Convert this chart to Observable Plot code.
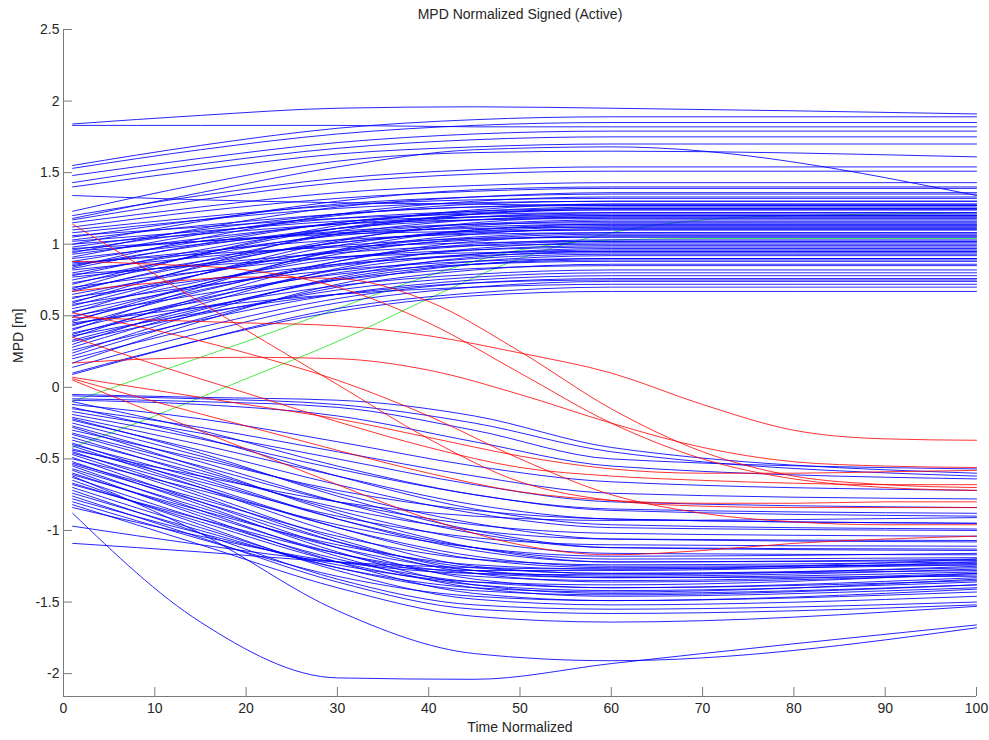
<!DOCTYPE html>
<html>
<head>
<meta charset="utf-8">
<script src="https://cdn.jsdelivr.net/npm/d3@7"></script>
<script src="https://cdn.jsdelivr.net/npm/@observablehq/plot@0.6"></script>
<style>
  html, body { margin: 0; padding: 0; background: #fff; }
  #chart { width: 989px; height: 740px; }
</style>
</head>
<body>
<div id="chart"></div>
<script>
// ---------- text ----------
const title = "MPD Normalized Signed (Active)";
const xLabel = "Time Normalized";
const yLabel = "MPD [m]";

// ---------- axes ----------
const xDomain = [0, 100];
const yDomain = [-2.16, 2.5];
const xTicks = [0, 10, 20, 30, 40, 50, 60, 70, 80, 90, 100];
const yTicks = [-2, -1.5, -1, -0.5, 0, 0.5, 1, 1.5, 2, 2.5];

// ---------- series ----------
// blue trajectories sampled at these normalized times
const blueKnots = [1, 15, 30, 45, 60, 100];

const upperBlue = [
  [1.84, 1.90, 1.95, 1.96, 1.95, 1.91],
  [1.83, 1.83, 1.83, 1.82, 1.82, 1.82],
  [1.55, 1.69, 1.81, 1.87, 1.89, 1.89],
  [1.53, 1.66, 1.77, 1.83, 1.85, 1.85],
  [1.48, 1.60, 1.71, 1.77, 1.79, 1.79],
  [1.43, 1.56, 1.67, 1.73, 1.75, 1.75],
  [1.40, 1.52, 1.63, 1.68, 1.70, 1.70],
  [1.34, 1.31, 1.29, 1.28, 1.27, 1.27],
  [1.23, 1.42, 1.58, 1.64, 1.65, 1.61],
  [1.20, 1.34, 1.46, 1.52, 1.54, 1.54],
  [1.17, 1.31, 1.43, 1.49, 1.51, 1.51],
  [1.15, 1.26, 1.36, 1.41, 1.43, 1.43],
  [1.12, 1.23, 1.32, 1.37, 1.39, 1.39],
  [1.10, 1.19, 1.27, 1.31, 1.32, 1.32],
  [1.18, 1.36, 1.54, 1.66, 1.68, 1.34],
  [1.08, 1.17, 1.25, 1.29, 1.30, 1.30],
  [1.06, 1.12, 1.18, 1.21, 1.22, 1.22],
  [1.05, 1.17, 1.28, 1.33, 1.35, 1.35],
  [1.03, 1.13, 1.21, 1.26, 1.27, 1.27],
  [1.02, 1.09, 1.16, 1.19, 1.20, 1.20],
  [1.00, 1.07, 1.14, 1.17, 1.18, 1.18],
  [1.00, 1.16, 1.30, 1.38, 1.40, 1.40],
  [0.98, 1.10, 1.21, 1.26, 1.28, 1.28],
  [0.97, 1.02, 1.07, 1.09, 1.10, 1.10],
  [0.96, 1.08, 1.18, 1.23, 1.25, 1.25],
  [0.95, 1.02, 1.08, 1.11, 1.12, 1.12],
  [0.94, 1.11, 1.26, 1.33, 1.36, 1.36],
  [0.93, 1.04, 1.14, 1.19, 1.21, 1.21],
  [0.91, 1.07, 1.20, 1.28, 1.30, 1.30],
  [0.90, 1.00, 1.09, 1.14, 1.15, 1.15],
  [0.88, 1.02, 1.15, 1.22, 1.24, 1.24],
  [0.87, 0.93, 0.98, 1.01, 1.02, 1.02],
  [0.86, 0.95, 1.03, 1.07, 1.08, 1.08],
  [0.85, 0.99, 1.11, 1.17, 1.19, 1.19],
  [0.84, 1.04, 1.21, 1.30, 1.33, 1.33],
  [0.83, 1.00, 1.15, 1.23, 1.26, 1.26],
  [0.82, 0.91, 0.99, 1.04, 1.05, 1.05],
  [0.80, 0.94, 1.06, 1.12, 1.14, 1.14],
  [0.79, 0.85, 0.91, 0.94, 0.95, 0.95],
  [0.78, 0.96, 1.11, 1.19, 1.22, 1.22],
  [0.77, 0.86, 0.94, 0.99, 1.00, 1.00],
  [0.75, 0.92, 1.07, 1.14, 1.17, 1.17],
  [0.73, 0.88, 1.01, 1.08, 1.10, 1.10],
  [0.72, 0.93, 1.11, 1.21, 1.24, 1.24],
  [0.70, 0.81, 0.91, 0.96, 0.98, 0.98],
  [0.69, 0.93, 1.13, 1.24, 1.28, 1.28],
  [0.68, 0.86, 1.01, 1.09, 1.12, 1.12],
  [0.67, 0.88, 1.07, 1.17, 1.20, 1.20],
  [0.65, 0.81, 0.95, 1.03, 1.05, 1.05],
  [0.63, 0.75, 0.86, 0.92, 0.94, 0.94],
  [0.62, 0.84, 1.03, 1.13, 1.16, 1.16],
  [0.60, 0.79, 0.96, 1.05, 1.08, 1.08],
  [0.59, 0.85, 1.09, 1.21, 1.25, 1.25],
  [0.58, 0.71, 0.82, 0.88, 0.90, 0.90],
  [0.57, 0.79, 0.99, 1.10, 1.13, 1.13],
  [0.55, 0.74, 0.90, 0.99, 1.02, 1.02],
  [0.53, 0.70, 0.85, 0.93, 0.96, 0.96],
  [0.52, 0.79, 1.02, 1.15, 1.19, 1.19],
  [0.50, 0.65, 0.79, 0.86, 0.88, 0.88],
  [0.49, 0.72, 0.93, 1.04, 1.07, 1.07],
  [0.47, 0.68, 0.86, 0.96, 0.99, 0.99],
  [0.46, 0.72, 0.95, 1.07, 1.11, 1.11],
  [0.45, 0.56, 0.65, 0.70, 0.72, 0.72],
  [0.44, 0.60, 0.75, 0.83, 0.85, 0.85],
  [0.43, 0.67, 0.88, 1.00, 1.03, 1.03],
  [0.41, 0.62, 0.80, 0.90, 0.93, 0.93],
  [0.40, 0.70, 0.96, 1.10, 1.14, 1.14],
  [0.38, 0.56, 0.71, 0.79, 0.82, 0.82],
  [0.37, 0.61, 0.82, 0.93, 0.97, 0.97],
  [0.36, 0.52, 0.65, 0.73, 0.75, 0.75],
  [0.35, 0.63, 0.88, 1.02, 1.06, 1.06],
  [0.33, 0.55, 0.75, 0.86, 0.89, 0.89],
  [0.32, 0.51, 0.68, 0.77, 0.80, 0.80],
  [0.30, 0.58, 0.83, 0.97, 1.01, 1.01],
  [0.28, 0.54, 0.76, 0.88, 0.92, 0.92],
  [0.26, 0.47, 0.65, 0.75, 0.78, 0.78],
  [0.24, 0.52, 0.77, 0.91, 0.95, 0.95],
  [0.22, 0.48, 0.70, 0.82, 0.86, 0.86],
  [0.20, 0.42, 0.62, 0.73, 0.76, 0.76],
  [0.17, 0.46, 0.72, 0.86, 0.90, 0.90],
  [0.14, 0.38, 0.59, 0.70, 0.74, 0.74],
  [0.10, 0.33, 0.53, 0.64, 0.67, 0.67],
  [0.09, 0.33, 0.55, 0.66, 0.70, 0.70]
];

const lowerBlue = [
  [-0.05, -0.07, -0.09, -0.20, -0.42, -0.60],
  [-0.08, -0.10, -0.14, -0.30, -0.50, -0.57],
  [-0.06, -0.08, -0.12, -0.25, -0.45, -0.62],
  [-0.09, -0.12, -0.20, -0.38, -0.55, -0.64],
  [-0.10, -0.30, -0.55, -0.75, -0.85, -0.88],
  [-0.12, -0.22, -0.38, -0.55, -0.66, -0.72],
  [-0.14, -0.35, -0.62, -0.85, -0.96, -0.99],
  [-0.15, -0.28, -0.45, -0.62, -0.74, -0.78],
  [-0.17, -0.32, -0.50, -0.68, -0.80, -0.84],
  [-0.19, -0.36, -0.57, -0.75, -0.86, -0.90],
  [-0.21, -0.40, -0.62, -0.82, -0.92, -0.95],
  [-0.22, -0.46, -0.76, -1.00, -1.12, -1.14],
  [-0.23, -0.44, -0.68, -0.88, -0.98, -1.00],
  [-0.25, -0.48, -0.74, -0.95, -1.06, -1.08],
  [-0.27, -0.52, -0.80, -1.02, -1.12, -1.13],
  [-0.28, -0.56, -0.88, -1.12, -1.22, -1.21],
  [-0.30, -0.50, -0.72, -0.86, -0.92, -0.95],
  [-0.32, -0.55, -0.80, -0.96, -1.02, -1.04],
  [-0.33, -0.58, -0.86, -1.07, -1.16, -1.17],
  [-0.35, -0.62, -0.92, -1.14, -1.22, -1.20],
  [-0.37, -0.60, -0.84, -1.00, -1.06, -1.07],
  [-0.39, -0.68, -0.98, -1.20, -1.26, -1.23],
  [-0.40, -0.64, -0.92, -1.12, -1.20, -1.19],
  [-0.41, -0.70, -1.02, -1.25, -1.30, -1.26],
  [-0.43, -0.66, -0.90, -1.05, -1.10, -1.11],
  [-0.44, -0.62, -0.80, -0.90, -0.93, -0.91],
  [-0.45, -0.74, -1.06, -1.28, -1.33, -1.29],
  [-0.46, -0.70, -0.98, -1.18, -1.25, -1.24],
  [-0.47, -0.76, -1.08, -1.30, -1.36, -1.31],
  [-0.49, -0.80, -1.12, -1.34, -1.40, -1.35],
  [-0.50, -0.72, -0.96, -1.12, -1.18, -1.16],
  [-0.52, -0.82, -1.15, -1.38, -1.44, -1.38],
  [-0.53, -0.78, -1.04, -1.20, -1.24, -1.22],
  [-0.54, -0.80, -1.08, -1.26, -1.30, -1.28],
  [-0.55, -0.86, -1.18, -1.40, -1.46, -1.40],
  [-0.57, -0.84, -1.12, -1.28, -1.32, -1.27],
  [-0.58, -0.90, -1.22, -1.44, -1.49, -1.43],
  [-0.60, -0.88, -1.16, -1.32, -1.35, -1.30],
  [-0.61, -0.86, -1.10, -1.24, -1.27, -1.24],
  [-0.62, -1.02, -1.56, -1.86, -1.91, -1.68],
  [-0.63, -0.92, -1.20, -1.36, -1.40, -1.33],
  [-0.65, -0.96, -1.28, -1.48, -1.52, -1.46],
  [-0.67, -0.94, -1.22, -1.38, -1.42, -1.36],
  [-0.68, -0.92, -1.16, -1.30, -1.33, -1.32],
  [-0.70, -0.98, -1.26, -1.42, -1.45, -1.38],
  [-0.72, -1.02, -1.34, -1.52, -1.55, -1.50],
  [-0.74, -1.00, -1.26, -1.40, -1.43, -1.34],
  [-0.76, -1.05, -1.36, -1.55, -1.58, -1.52],
  [-0.78, -1.02, -1.24, -1.36, -1.38, -1.30],
  [-0.80, -1.06, -1.32, -1.46, -1.49, -1.41],
  [-0.82, -1.10, -1.40, -1.60, -1.64, -1.53],
  [-0.84, -1.04, -1.22, -1.30, -1.31, -1.25],
  [-0.88, -1.64, -2.03, -2.04, -1.93, -1.66],
  [-0.97, -1.10, -1.22, -1.28, -1.28, -1.22],
  [-1.09, -1.15, -1.22, -1.26, -1.27, -1.20]
];

// red and green trajectories sampled every 10 units
const rgKnots = [1, 10, 20, 30, 40, 50, 60, 70, 80, 90, 100];

const redLines = [
  [1.14, 0.79, 0.40, 0.02, -0.36, -0.66, -0.79, -0.83, -0.84, -0.84, -0.84],
  [0.67, 0.73, 0.77, 0.76, 0.60, 0.25, -0.15, -0.45, -0.62, -0.68, -0.70],
  [0.49, 0.47, 0.45, 0.43, 0.36, 0.24, 0.10, -0.12, -0.30, -0.36, -0.37],
  [0.35, 0.16, -0.04, -0.24, -0.42, -0.56, -0.62, -0.65, -0.67, -0.68, -0.68],
  [0.17, 0.20, 0.21, 0.20, 0.12, -0.05, -0.25, -0.42, -0.52, -0.55, -0.56],
  [0.06, -0.10, -0.27, -0.44, -0.60, -0.73, -0.79, -0.81, -0.81, -0.80, -0.80],
  [0.05, -0.18, -0.43, -0.68, -0.92, -1.10, -1.17, -1.14, -1.09, -1.06, -1.04],
  [0.07, -0.02, -0.12, -0.22, -0.35, -0.48, -0.57, -0.60, -0.60, -0.59, -0.58],
  [0.52, 0.40, 0.24, 0.05, -0.20, -0.50, -0.75, -0.88, -0.94, -0.96, -0.96],
  [0.88, 0.86, 0.82, 0.70, 0.45, 0.10, -0.25, -0.50, -0.64, -0.70, -0.72]
];

const greenLines = [
  [-0.10, 0.10, 0.32, 0.55, 0.78, 0.96, 1.03, 1.04, 1.04, 1.04, 1.04],
  [-0.42, -0.20, 0.06, 0.32, 0.62, 0.90, 1.08, 1.17, 1.20, 1.21, 1.22]
];

// ---------- build long tables ----------
function toRows(lines, knots, prefix) {
  return lines.flatMap((vals, i) => vals.map((v, j) => ({x: knots[j], y: v, id: prefix + i})));
}
const blueRows = toRows(upperBlue, blueKnots, "u").concat(toRows(lowerBlue, blueKnots, "l"));
const redRows = toRows(redLines, rgKnots, "r");
const greenRows = toRows(greenLines, rgKnots, "g");

// ---------- layout ----------
const W = 989, H = 740;
const mL = 63, mR = 13, mT = 29, mB = 44;
const frameW = W - mL - mR, frameH = H - mT - mB;
const tickLen = 9;
const axisColor = "#7a7a7a";
const textColor = "#262626";
const fmt = d => String(d);

const chart = Plot.plot({
  width: W,
  height: H,
  marginLeft: mL,
  marginRight: mR,
  marginTop: mT,
  marginBottom: mB,
  style: {
    fontFamily: "'Liberation Sans', Arial, Helvetica, sans-serif",
    fontSize: "14px",
    background: "#ffffff",
    color: textColor
  },
  x: {domain: xDomain, ticks: xTicks, tickSize: 0, tickPadding: 7, tickFormat: fmt, label: null},
  y: {domain: yDomain, ticks: yTicks, tickSize: 0, tickPadding: 4, tickFormat: fmt, label: null},
  marks: [
    Plot.line(greenRows, {x: "x", y: "y", z: "id", stroke: "#00dd00", strokeWidth: 1, strokeOpacity: 0.7, curve: "monotone-x"}),
    Plot.line(blueRows, {x: "x", y: "y", z: "id", stroke: "#0000ff", strokeWidth: 1, strokeOpacity: 0.85, curve: "monotone-x"}),
    Plot.line(redRows, {x: "x", y: "y", z: "id", stroke: "#ff0000", strokeWidth: 1, strokeOpacity: 0.8, curve: "monotone-x"}),
    Plot.ruleX([xDomain[0]], {stroke: axisColor, strokeWidth: 1}),
    Plot.ruleY([yDomain[0]], {stroke: axisColor, strokeWidth: 1}),
    Plot.tickY(yTicks, {y: d => d, stroke: axisColor, insetRight: frameW - tickLen}),
    Plot.tickX(xTicks, {x: d => d, stroke: axisColor, insetTop: frameH - tickLen}),
    Plot.text([title], {frameAnchor: "top", lineAnchor: "middle", dy: -15, fill: textColor, fontSize: 14}),
    Plot.text([xLabel], {frameAnchor: "bottom", lineAnchor: "middle", dy: 31, fill: textColor, fontSize: 14}),
    Plot.text([yLabel], {frameAnchor: "left", lineAnchor: "middle", dx: -45, rotate: -90, fill: textColor, fontSize: 14})
  ]
});

document.getElementById("chart").appendChild(chart);
</script>
</body>
</html>
